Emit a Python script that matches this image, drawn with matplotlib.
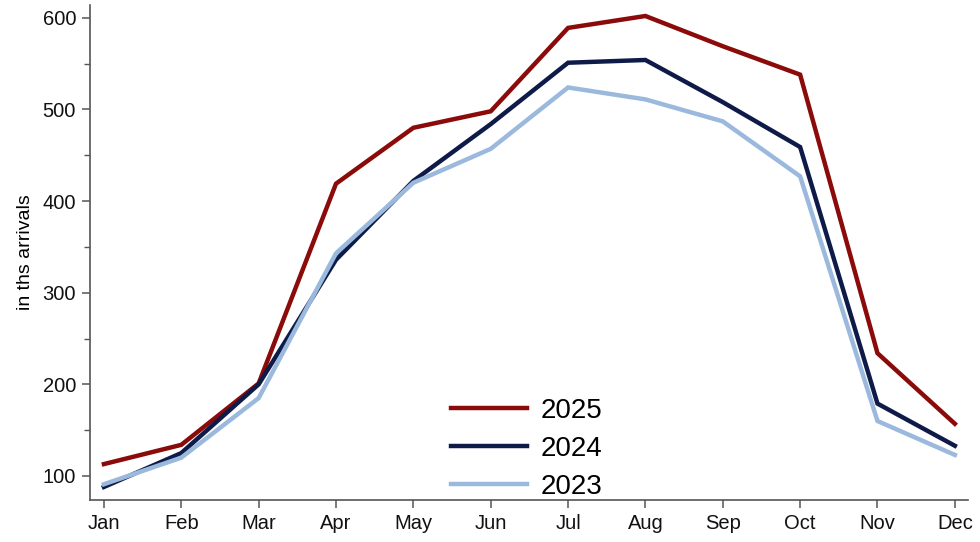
import numpy as np
import matplotlib.pyplot as plt

plt.rcParams['font.family'] = ['Liberation Sans', 'DejaVu Sans']

months = ["Jan", "Feb", "Mar", "Apr", "May", "Jun", "Jul", "Aug", "Sep", "Oct", "Nov", "Dec"]
arr_2025 = [113, 134, 201, 419, 480, 498, 589, 602, 569, 538, 234, 157]
arr_2024 = [88, 125, 200, 336, 422, 484, 551, 554, 508, 459, 179, 133]
arr_2023 = [91, 120, 185, 343, 420, 457, 524, 511, 487, 427, 160, 123]

series = [("2025", arr_2025, "#8b0a0a"),
          ("2024", arr_2024, "#0e1b48"),
          ("2023", arr_2023, "#9bb9dd")]

fig = plt.figure(figsize=(9.8, 5.42), dpi=100)
ax = fig.add_axes([90 / 980, 42 / 542, 878 / 980, 495 / 542])

x = np.arange(len(months))
for label, vals, col in series:
    ax.plot(x, vals, color=col, lw=3.2, label=label, solid_joinstyle='miter')

ax.set_xlim(-0.18, 11.17)
ax.set_ylim(73.8, 614)
ax.set_xticks(x)
ax.set_xticklabels(months)
ax.set_yticks([100, 200, 300, 400, 500, 600])
ax.set_yticks([150, 250, 350, 450, 550], minor=True)
ax.set_ylabel("in ths arrivals", fontsize=14, labelpad=6)

for s in ["top", "right"]:
    ax.spines[s].set_visible(False)
for s in ["left", "bottom"]:
    ax.spines[s].set_color("#555555")
    ax.spines[s].set_linewidth(1.2)
ax.tick_params(axis="both", which="major", length=6, width=1.1, color="#555555",
               labelsize=14.5, labelcolor="#111111", pad=4)
ax.tick_params(axis="y", which="minor", length=4, width=1.0, color="#555555")

leg = ax.legend(loc="lower left", bbox_to_anchor=(0.411, 0.0), frameon=False,
                fontsize=20, handlelength=2.75, handletextpad=0.47,
                labelspacing=0.43, borderpad=0, borderaxespad=0)

fig.savefig("out.png", dpi=100)
